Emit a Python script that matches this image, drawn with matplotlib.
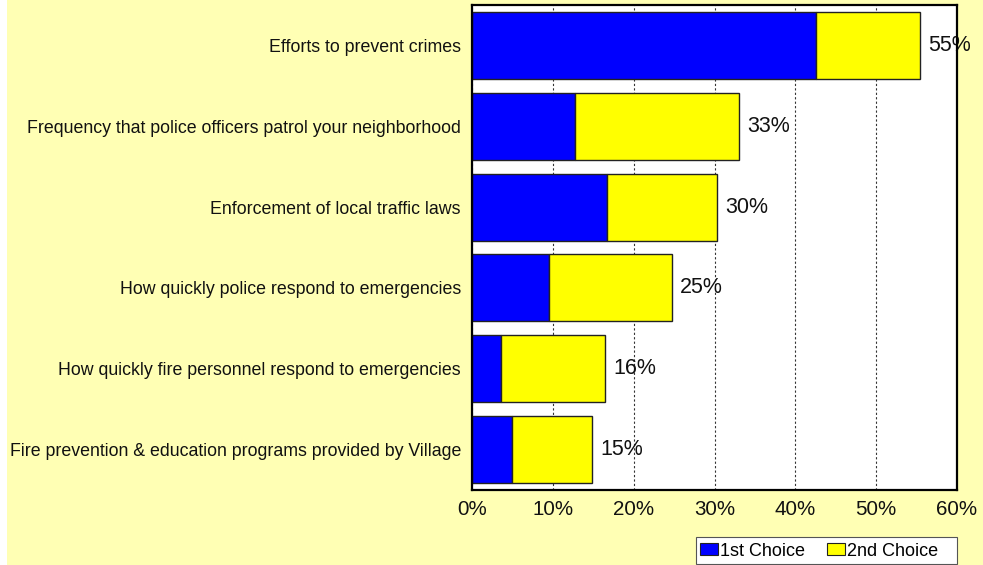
import matplotlib
matplotlib.use("Agg")
import matplotlib.pyplot as plt
from matplotlib.patches import Rectangle, Patch

plt.rcParams['font.family'] = ['Liberation Sans', 'DejaVu Sans']

categories = [
    "Efforts to prevent crimes",
    "Frequency that police officers patrol your neighborhood",
    "Enforcement of local traffic laws",
    "How quickly police respond to emergencies",
    "How quickly fire personnel respond to emergencies",
    "Fire prevention & education programs provided by Village",
]
first_choice = [42.5, 12.7, 16.7, 9.5, 3.6, 4.9]
second_choice = [12.9, 20.3, 13.6, 15.2, 12.8, 9.9]
series_names = ["1st Choice", "2nd Choice"]
x_ticks = [0, 10, 20, 30, 40, 50, 60]
x_tick_labels = ["0%", "10%", "20%", "30%", "40%", "50%", "60%"]

W, H = 983, 565
fig = plt.figure(figsize=(W / 100, H / 100), dpi=100)
fig.patch.set_facecolor("#FFFFB4")
# narrow white strip along the left edge
fig.patches.append(Rectangle((0, 0), 7 / W, 1, transform=fig.transFigure,
                             facecolor="white", edgecolor="none", zorder=0))

ax = fig.add_axes([472 / W, 1 - 490 / H, (957 - 472) / W, (490 - 5) / H])
ax.set_facecolor("white")

y = list(range(len(categories)))
bar_h = 0.83
ax.barh(y, first_choice, height=bar_h, color="#0000FF",
        edgecolor="#222222", linewidth=1.0, zorder=3, label=series_names[0])
ax.barh(y, second_choice, left=first_choice, height=bar_h, color="#FFFF00",
        edgecolor="#222222", linewidth=1.0, zorder=3, label=series_names[1])

for yi, a, b in zip(y, first_choice, second_choice):
    total = a + b
    ax.annotate(f"{round(total):.0f}%", xy=(total, yi), xytext=(6, 0),
                textcoords="offset points", ha="left", va="center",
                fontsize=15.5, color="#111111", zorder=4)

ax.set_xlim(0, 60)
ax.set_ylim(len(categories) - 0.5, -0.5)
ax.set_xticks(x_ticks)
ax.set_xticklabels(x_tick_labels, fontsize=14.8)
ax.set_yticks(y)
ax.set_yticklabels(categories, fontsize=12.8)
ax.tick_params(axis="both", length=0, colors="#111111")
ax.tick_params(axis="y", pad=8)
ax.tick_params(axis="x", pad=7)

ax.grid(axis="x", color="#333333", linestyle=(0, (2.0, 2.0)), linewidth=0.8, zorder=1)
ax.grid(axis="y", visible=False)
for s in ax.spines.values():
    s.set_linewidth(1.6)
    s.set_color("black")
    s.set_zorder(6)

# legend box, with the entries set inside it
fig.patches.append(Rectangle((696 / W, 1 - 564 / H), (957 - 696) / W, 27 / H,
                             transform=fig.transFigure, facecolor="white",
                             edgecolor="#555555", linewidth=0.8, zorder=1))
handles = [Patch(facecolor="#0000FF", edgecolor="#222222", linewidth=0.8),
           Patch(facecolor="#FFFF00", edgecolor="#222222", linewidth=0.8)]
leg = fig.legend(handles, series_names, loc="center left",
                 bbox_to_anchor=(700 / W, 1 - 551 / H), ncol=2, fontsize=13,
                 frameon=False, handlelength=0.98, handleheight=0.6,
                 handletextpad=0.15, columnspacing=1.2,
                 borderpad=0, borderaxespad=0)
leg.set_zorder(2)

fig.savefig("out.png", dpi=100, facecolor=fig.get_facecolor())
